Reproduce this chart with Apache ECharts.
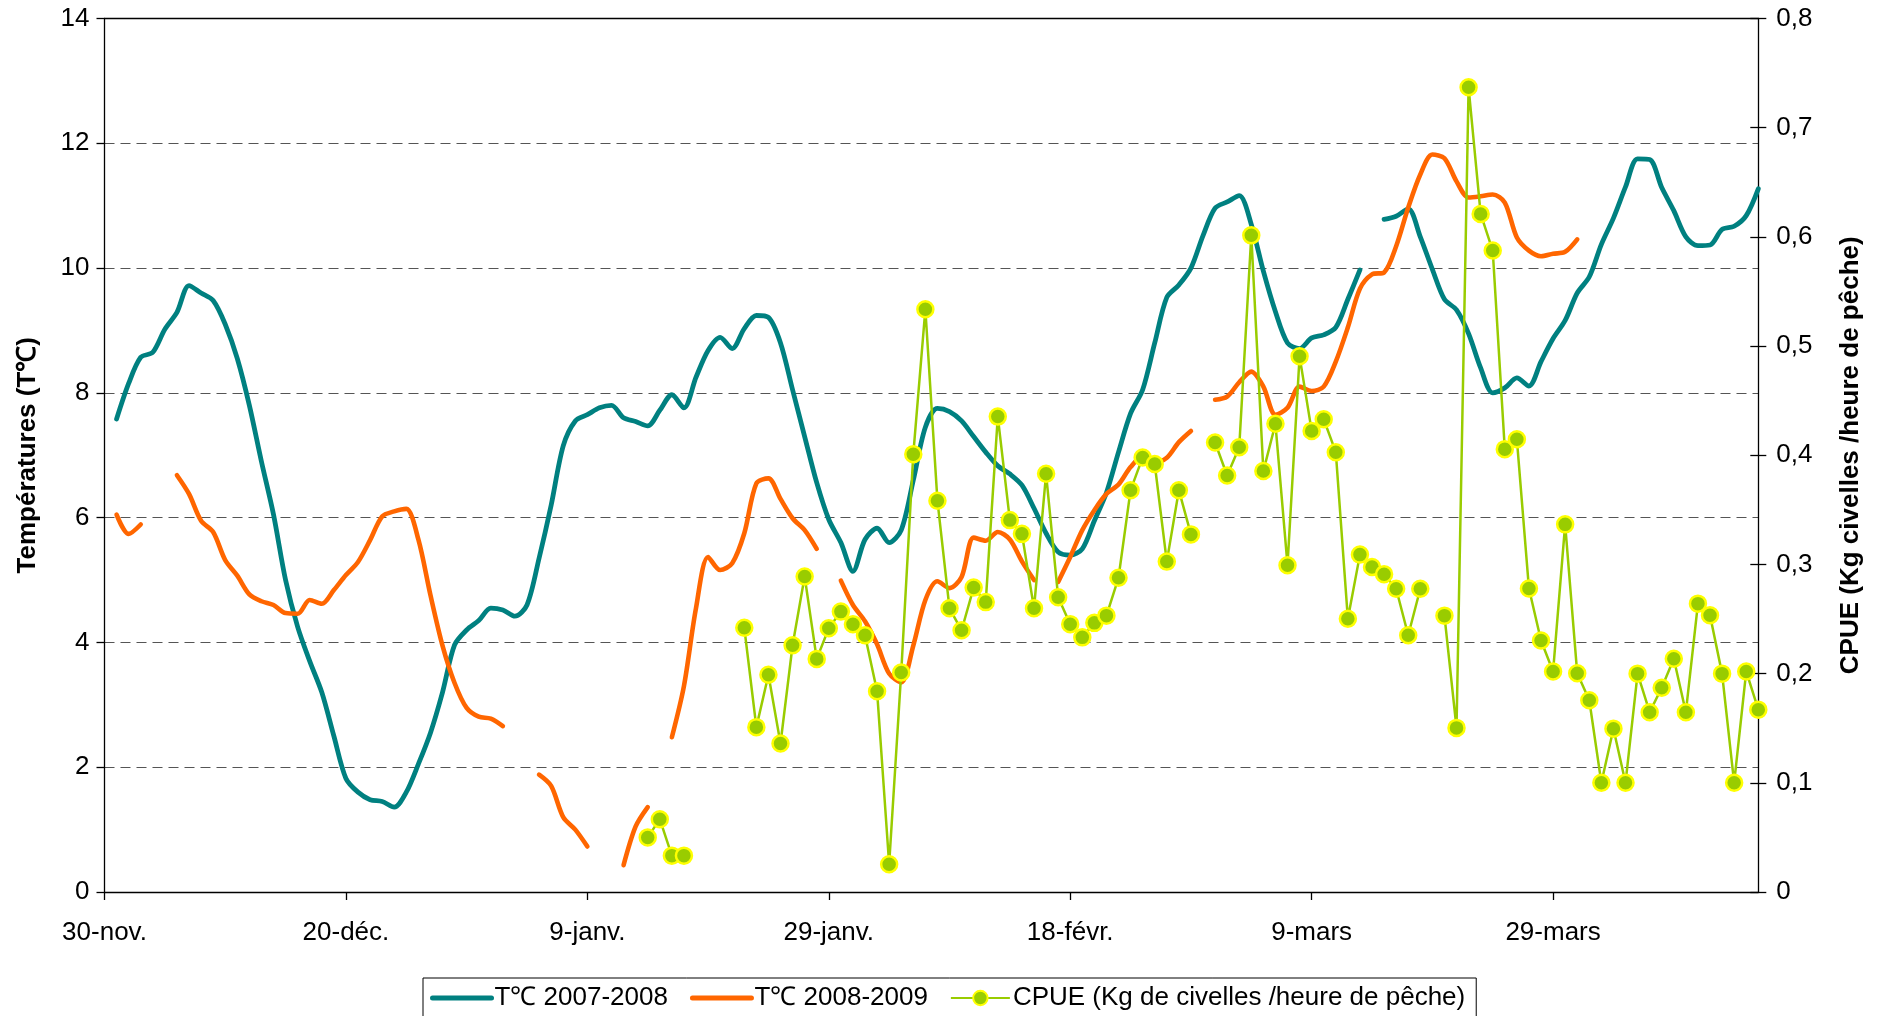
<!DOCTYPE html>
<html>
<head>
<meta charset="utf-8">
<script src="https://cdn.jsdelivr.net/npm/echarts@6/dist/echarts.min.js"></script>
<style>
html,body{margin:0;padding:0;background:#fff;}
#chart{width:1884px;height:1016px;}
</style>
</head>
<body>
<div id="chart"></div>
<script>
// Day index 0 = 30-nov, one value per day (null = no data)
const tickDays = [0, 20, 40, 60, 80, 100, 120];
const tickLabels = ['30-nov.', '20-déc.', '9-janv.', '29-janv.', '18-févr.', '9-mars', '29-mars'];

const temp0708 = [
  null, 7.58, 8.15, 8.57, 8.65, 9.02, 9.29, 9.72, 9.6, 9.48,
  9.1, 8.55, 7.8, 6.9, 6.05, 5.0, 4.25, 3.7, 3.2, 2.5,
  1.82, 1.6, 1.48, 1.45, 1.36, 1.6, 2.05, 2.55, 3.2, 3.96,
  4.2, 4.35, 4.55, 4.52, 4.42, 4.6, 5.35, 6.2, 7.15, 7.55,
  7.65, 7.76, 7.8, 7.6, 7.54, 7.47, 7.72, 7.97, 7.76, 8.25,
  8.68, 8.89, 8.71, 9.03, 9.24, 9.21, 8.8, 8.05, 7.3, 6.56,
  5.97, 5.6, 5.14, 5.65, 5.83, 5.6, 5.8, 6.6, 7.45, 7.75,
  7.7, 7.55, 7.3, 7.05, 6.83, 6.7, 6.52, 6.15, 5.75, 5.45,
  5.4, 5.5, 5.95, 6.4, 7.05, 7.67, 8.05, 8.8, 9.53, 9.73,
  10.0, 10.52, 10.96, 11.06, 11.16, 10.7, 9.95, 9.3, 8.8, 8.71,
  8.88, 8.93, 9.05, 9.5, 9.97, null, 10.78, 10.83, 10.95, 10.5,
  9.98, 9.5, 9.33, 8.95, 8.4, 8.0, 8.08, 8.24, 8.11, 8.5,
  8.87, 9.16, 9.6, 9.86, 10.38, 10.8, 11.3, 11.75, 11.74, 11.29,
  10.92, 10.5, 10.36, 10.37, 10.62, 10.67, 10.84, 11.27
];

const temp0809 = [
  null, 6.05, 5.74, 5.89, null, null, 6.68, 6.38, 5.95, 5.77,
  5.32, 5.07, 4.77, 4.66, 4.6, 4.47, 4.46, 4.68, 4.62, 4.84,
  5.08, 5.29, 5.64, 6.02, 6.1, 6.14, 5.65, 4.76, 3.95, 3.35,
  2.95, 2.81, 2.78, 2.66, null, null, 1.88, 1.7, 1.2, 1.0,
  0.73, null, null, 0.43, 1.05, 1.36, null, 2.48, 3.3, 4.55,
  5.37, 5.16, 5.27, 5.75, 6.55, 6.63, 6.3, 5.99, 5.8, 5.5,
  null, 4.99, 4.6, 4.34, 3.97, 3.5, 3.36, 3.95, 4.68, 4.98,
  4.87, 5.05, 5.68, 5.63, 5.77, 5.65, 5.3, 5.0, null, 4.97,
  5.37, 5.8, 6.12, 6.38, 6.53, 6.81, 6.98, 6.89, 6.96, 7.21,
  7.39, null, 7.89, 7.94, 8.17, 8.34, 8.1, 7.65, 7.76, 8.1,
  8.03, 8.1, 8.5, 9.05, 9.67, 9.9, 9.93, 10.35, 10.97, 11.5,
  11.82, 11.76, 11.39, 11.13, 11.15, 11.18, 11.05, 10.49, 10.28, 10.19,
  10.23, 10.26, 10.46, null, null, null, null, null, null, null,
  null, null, null, null, null, null, null, null
];

const cpue = [
  null, null, null, null, null, null, null, null, null, null,
  null, null, null, null, null, null, null, null, null, null,
  null, null, null, null, null, null, null, null, null, null,
  null, null, null, null, null, null, null, null, null, null,
  null, null, null, null, null, 0.05, 0.0667, 0.0333, 0.0333, null,
  null, null, null, 0.242, 0.151, 0.199, 0.136, 0.226, 0.289, 0.2135,
  0.2416, 0.2568, 0.2453, 0.2351, 0.1839, 0.0254, 0.201, 0.401, 0.5337, 0.3584,
  0.2598, 0.2397, 0.2788, 0.2655, 0.4354, 0.3406, 0.328, 0.2598, 0.383, 0.27,
  0.2453, 0.2332, 0.2465, 0.2531, 0.2878, 0.368, 0.398, 0.392, 0.3026, 0.368,
  0.3275, null, 0.4117, 0.3815, 0.4073, 0.6014, 0.3855, 0.4288, 0.2993, 0.4906,
  0.4223, 0.433, 0.4028, 0.2502, 0.309, 0.2976, 0.2911, 0.2777, 0.2351, 0.2777,
  null, 0.2531, 0.1503, 0.737, 0.621, 0.5875, 0.4056, 0.4146, 0.278, 0.2303,
  0.202, 0.3367, 0.2003, 0.1756, 0.1, 0.1496, 0.1, 0.2, 0.1647, 0.187,
  0.2136, 0.1647, 0.2641, 0.2534, 0.2, 0.1, 0.202, 0.167
];

const seriesNames = ['T℃ 2007-2008', 'T℃ 2008-2009', 'CPUE (Kg de civelles /heure de pêche)'];

const FONT = 'Liberation Sans, Arial, sans-serif';
const toPairs = arr => arr.map((v, i) => [i, v]);

const chart = echarts.init(document.getElementById('chart'), null, {renderer: 'canvas'});

const lastDay = temp0708.length - 1;

const option = {
  backgroundColor: '#ffffff',
  animation: false,
  textStyle: {fontFamily: FONT, color: '#000'},
  grid: {left: 104.5, right: 125.7, top: 18.5, bottom: 124},
  legend: {
    data: [
      {name: seriesNames[0], itemStyle: {opacity: 0}, lineStyle: {width: 5, color: '#008080'}},
      {name: seriesNames[1], itemStyle: {opacity: 0}, lineStyle: {width: 5, color: '#FF6600'}},
      {name: seriesNames[2]}
    ],
    left: 423,
    top: 978,
    padding: [7, 11, 7, 7],
    itemGap: 22,
    itemWidth: 59,
    itemHeight: 18,
    borderColor: '#000',
    borderWidth: 1,
    backgroundColor: '#fff',
    textStyle: {fontFamily: FONT, fontSize: 26, color: '#000', padding: [0, 0, 0, -2]}
  },
  xAxis: [
    {
      type: 'value',
      min: 0,
      max: lastDay,
      axisLine: {show: true, onZero: false, lineStyle: {color: '#000', width: 1.3}},
      axisTick: {show: true, length: 8, customValues: tickDays, lineStyle: {color: '#000', width: 1.3}},
      axisLabel: {
        customValues: tickDays,
        fontFamily: FONT, fontSize: 26, color: '#000', margin: 28,
        formatter: v => {
          const i = tickDays.indexOf(Math.round(v));
          return i >= 0 ? tickLabels[i] : '';
        }
      },
      splitLine: {show: false}
    },
    {
      type: 'value',
      position: 'top',
      min: 0,
      max: lastDay,
      axisLine: {show: true, onZero: false, lineStyle: {color: '#000', width: 1.3}},
      axisTick: {show: false},
      axisLabel: {show: false},
      splitLine: {show: false}
    }
  ],
  yAxis: [
    {
      type: 'value',
      min: 0, max: 14, interval: 2,
      position: 'left',
      name: 'Températures (T℃)',
      nameLocation: 'middle',
      nameRotate: 90,
      nameGap: 64,
      nameTextStyle: {fontFamily: FONT, fontSize: 26, fontWeight: 'bold', color: '#000'},
      axisLine: {show: true, onZero: false, lineStyle: {color: '#000', width: 1.3}},
      axisTick: {show: true, length: 8, lineStyle: {color: '#000', width: 1.3}},
      axisLabel: {fontFamily: FONT, fontSize: 26, color: '#000', margin: 15},
      splitLine: {show: true, lineStyle: {color: '#555', width: 1.2, type: [10, 6]}}
    },
    {
      type: 'value',
      min: 0, max: 0.8, interval: 0.1,
      position: 'right',
      name: 'CPUE (Kg civelles /heure de pêche)',
      nameLocation: 'middle',
      nameRotate: 90,
      nameGap: 80,
      nameTextStyle: {fontFamily: FONT, fontSize: 26, fontWeight: 'bold', color: '#000'},
      axisLine: {show: true, onZero: false, lineStyle: {color: '#000', width: 1.3}},
      axisTick: {show: true, length: 8, lineStyle: {color: '#000', width: 1.3}},
      axisLabel: {
        fontFamily: FONT, fontSize: 26, color: '#000', margin: 18,
        formatter: v => (v === 0 ? '0' : v.toFixed(1).replace('.', ','))
      },
      splitLine: {show: false}
    },
    {
      // inner half of the crossing ticks on the right-hand axis
      type: 'value',
      min: 0, max: 0.8, interval: 0.1,
      position: 'right',
      offset: 0,
      axisLine: {show: false, onZero: false},
      axisTick: {show: true, inside: true, length: 8, lineStyle: {color: '#000', width: 1.3}},
      axisLabel: {show: false},
      splitLine: {show: false}
    }
  ],
  series: [
    {
      name: seriesNames[0],
      type: 'line',
      data: toPairs(temp0708),
      yAxisIndex: 0,
      symbol: 'none',
      smooth: 0.3,
      connectNulls: false,
      lineStyle: {color: '#008080', width: 4.8, cap: 'round', join: 'round'},
      itemStyle: {color: '#008080'},
      z: 2
    },
    {
      name: seriesNames[1],
      type: 'line',
      data: toPairs(temp0809),
      yAxisIndex: 0,
      symbol: 'none',
      smooth: 0.3,
      connectNulls: false,
      lineStyle: {color: '#FF6600', width: 4.6, cap: 'round', join: 'round'},
      itemStyle: {color: '#FF6600'},
      z: 3
    },
    {
      name: seriesNames[2],
      type: 'line',
      data: toPairs(cpue),
      yAxisIndex: 1,
      symbol: 'circle',
      symbolSize: 16,
      showAllSymbol: true,
      connectNulls: false,
      lineStyle: {color: '#99CC00', width: 2.5},
      itemStyle: {color: '#99CC00', borderColor: '#FFFF00', borderWidth: 2.5},
      z: 4
    }
  ]
};

chart.setOption(option);
</script>
</body>
</html>
